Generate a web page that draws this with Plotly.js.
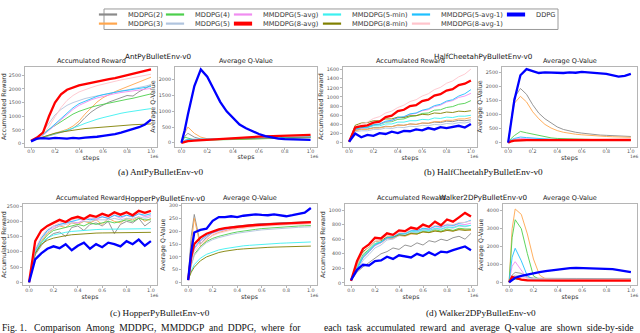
<!DOCTYPE html>
<html>
<head>
<meta charset="utf-8">
<script src="https://cdn.plot.ly/plotly-3.0.1.min.js"></script>
<style>
  html, body { margin: 0; padding: 0; background: #fff; }
  #graph { width: 640px; height: 333px; }
</style>
</head>
<body>
<div id="graph"></div>
<script>
// training steps (x1e6); Q panels get one extra early sample for the spikes
var steps = [0, 0.05, 0.1, 0.15, 0.2, 0.25, 0.3, 0.35, 0.4, 0.45, 0.5, 0.55, 0.6, 0.65, 0.7, 0.75, 0.8, 0.85, 0.9, 0.95, 1.0];
var stepsQ = [0, 0.025, 0.05, 0.1, 0.15, 0.2, 0.25, 0.3, 0.35, 0.4, 0.45, 0.5, 0.55, 0.6, 0.65, 0.7, 0.75, 0.8, 0.85, 0.9, 0.95, 1.0];

var seriesNames = ["MDDPG(2)", "MDDPG(3)", "MDDPG(4)", "MDDPG(5)", "MMDDPG(5-avg)", "MMDDPG(8-avg)",
  "MMDDPG(5-min)", "MMDDPG(8-min)", "MMDDPG(5-avg-1)", "MMDDPG(8-avg-1)", "DDPG"];

// one row per series, same order as seriesNames
var antReward = [
  [100, 160, 230, 300, 350, 420, 470, 560, 720, 950, 1150, 1300, 1420, 1520, 1600, 1680, 1760, 1740, 1900, 2010, 2150],
  [100, 170, 260, 330, 400, 460, 520, 640, 820, 1080, 1320, 1520, 1680, 1800, 1900, 1990, 2080, 2170, 2250, 2340, 2430],
  [100, 220, 380, 520, 660, 800, 950, 1080, 1180, 1260, 1330, 1390, 1440, 1480, 1530, 1570, 1620, 1660, 1720, 1770, 1820],
  [100, 230, 450, 760, 1050, 1250, 1400, 1500, 1580, 1650, 1700, 1750, 1790, 1840, 1880, 1920, 1960, 2000, 2050, 2100, 2160],
  [100, 180, 300, 470, 670, 870, 1070, 1250, 1400, 1510, 1600, 1670, 1730, 1780, 1830, 1870, 1900, 1930, 1960, 1990, 2020],
  [100, 220, 400, 1000, 1500, 1800, 1970, 2060, 2130, 2180, 2230, 2280, 2320, 2360, 2400, 2450, 2500, 2550, 2610, 2660, 2720],
  [100, 170, 240, 310, 370, 430, 490, 560, 650, 740, 820, 890, 950, 1010, 1060, 1110, 1150, 1190, 1220, 1250, 1280],
  [100, 170, 260, 330, 380, 420, 460, 490, 520, 550, 570, 590, 610, 630, 650, 660, 670, 690, 700, 710, 720],
  [100, 190, 320, 520, 720, 920, 1120, 1310, 1460, 1560, 1660, 1730, 1790, 1840, 1880, 1920, 1950, 1990, 2020, 2050, 2090],
  [100, 180, 330, 620, 980, 1320, 1580, 1760, 1890, 1980, 2050, 2120, 2180, 2230, 2280, 2330, 2370, 2410, 2450, 2500, 2540],
  [80, 180, 200, 180, 210, 190, 180, 210, 190, 220, 230, 250, 280, 310, 350, 400, 460, 520, 600, 700, 880]
];
var antQ = [
  [0, 200, 300, 180, 120, 100, 100, 105, 110, 115, 120, 125, 130, 135, 140, 145, 150, 155, 160, 165, 170, 175],
  [0, 300, 500, 300, 180, 130, 110, 105, 105, 110, 115, 120, 125, 130, 135, 140, 145, 150, 155, 160, 165, 170],
  [0, 180, 150, 90, 80, 85, 90, 95, 100, 105, 110, 115, 120, 125, 130, 135, 140, 145, 150, 155, 160, 165],
  [0, 60, 80, 90, 100, 110, 115, 120, 125, 130, 135, 140, 145, 150, 155, 160, 165, 170, 175, 180, 185, 190],
  [0, 70, 90, 100, 105, 110, 115, 120, 125, 130, 135, 140, 145, 150, 155, 160, 165, 170, 175, 180, 185, 190],
  [0, 40, 55, 70, 85, 100, 115, 130, 145, 160, 170, 180, 190, 197, 205, 212, 220, 227, 233, 240, 245, 250],
  [0, 60, 80, 90, 100, 110, 120, 125, 130, 135, 140, 145, 150, 155, 160, 165, 170, 175, 180, 185, 190, 195],
  [0, 50, 65, 80, 90, 100, 110, 115, 120, 125, 130, 135, 140, 145, 150, 155, 160, 165, 170, 175, 180, 185],
  [0, 80, 110, 110, 115, 120, 125, 130, 135, 140, 145, 150, 155, 160, 165, 170, 175, 180, 185, 190, 195, 200],
  [0, 50, 65, 80, 95, 110, 120, 130, 140, 150, 160, 170, 175, 180, 185, 190, 195, 200, 205, 210, 215, 220],
  [0, 400, 900, 1800, 2330, 2100, 1700, 1300, 1000, 780, 580, 460, 360, 280, 210, 160, 130, 115, 105, 100, 95, 90]
];
var cheetahReward = [
  [20, 270, 300, 300, 330, 330, 360, 350, 390, 380, 410, 400, 430, 420, 450, 440, 470, 460, 490, 480, 500],
  [20, 260, 290, 290, 320, 320, 350, 350, 380, 380, 410, 400, 430, 430, 460, 460, 490, 490, 520, 520, 550],
  [20, 280, 330, 340, 390, 400, 450, 460, 510, 520, 570, 590, 640, 650, 710, 720, 770, 790, 840, 860, 920],
  [20, 240, 260, 260, 290, 290, 320, 310, 340, 330, 360, 350, 380, 370, 400, 390, 420, 410, 440, 430, 460],
  [20, 290, 320, 330, 380, 400, 460, 480, 540, 560, 620, 640, 700, 720, 790, 820, 890, 920, 990, 1020, 1080],
  [20, 330, 360, 380, 440, 460, 560, 590, 690, 720, 800, 820, 910, 940, 1030, 1060, 1140, 1170, 1260, 1290, 1360],
  [20, 300, 330, 330, 370, 370, 410, 410, 450, 450, 480, 480, 510, 500, 540, 530, 560, 550, 580, 580, 600],
  [20, 380, 430, 440, 480, 480, 520, 520, 560, 550, 590, 590, 620, 610, 650, 640, 670, 660, 690, 680, 700],
  [20, 300, 330, 340, 390, 410, 470, 490, 550, 570, 630, 650, 710, 740, 810, 840, 910, 940, 1020, 1070, 1160],
  [20, 350, 410, 450, 530, 570, 650, 690, 770, 820, 900, 940, 1020, 1070, 1160, 1210, 1300, 1350, 1440, 1500, 1610],
  [20, 200, 120, 170, 150, 210, 190, 240, 210, 260, 250, 290, 270, 320, 290, 340, 320, 350, 370, 330, 410]
];
var cheetahQ = [
  [0, 900, 1600, 1930, 1720, 1350, 1050, 850, 690, 560, 470, 410, 370, 340, 310, 290, 270, 260, 250, 240, 230, 220],
  [0, 800, 1400, 1650, 1450, 1100, 850, 650, 520, 430, 370, 330, 300, 280, 260, 240, 230, 220, 210, 200, 195, 190],
  [0, 150, 250, 400, 350, 300, 250, 200, 170, 150, 140, 130, 125, 120, 115, 110, 110, 105, 105, 100, 100, 100],
  [0, 70, 100, 130, 120, 110, 110, 105, 100, 100, 100, 100, 100, 100, 100, 100, 100, 100, 100, 100, 100, 100],
  [0, 80, 120, 150, 140, 130, 120, 115, 110, 105, 100, 100, 100, 100, 100, 100, 100, 100, 100, 100, 100, 100],
  [0, 50, 70, 90, 90, 90, 90, 90, 90, 90, 90, 90, 90, 90, 90, 90, 90, 95, 95, 95, 95, 95],
  [0, 60, 90, 110, 100, 95, 90, 90, 90, 90, 90, 90, 90, 90, 90, 90, 90, 90, 90, 90, 90, 90],
  [0, 50, 70, 80, 80, 80, 80, 80, 80, 80, 80, 80, 80, 80, 80, 80, 80, 80, 80, 80, 80, 80],
  [0, 100, 150, 200, 180, 160, 140, 130, 120, 115, 110, 110, 110, 110, 110, 110, 110, 110, 110, 110, 110, 110],
  [0, 60, 90, 110, 105, 100, 100, 100, 100, 100, 100, 100, 100, 100, 100, 100, 100, 100, 100, 100, 100, 100],
  [0, 800, 1500, 2400, 2620, 2550, 2480, 2500, 2490, 2470, 2480, 2500, 2490, 2520, 2510, 2480, 2470, 2450, 2400, 2350, 2380, 2450]
];
var hopperReward = [
  [0, 900, 1200, 1450, 1600, 1650, 1500, 1800, 1850, 1700, 1900, 1950, 1850, 2000, 1600, 1900, 2000, 1950, 2100, 1850, 2000],
  [0, 1000, 1350, 1600, 1750, 1850, 1800, 1950, 1900, 2000, 1950, 2050, 1900, 2100, 2000, 1950, 2100, 2050, 2150, 2000, 2100],
  [0, 950, 1300, 1550, 1700, 1750, 1800, 1850, 1900, 1850, 1950, 1900, 1950, 2000, 1950, 2000, 2050, 2000, 2100, 2050, 2050],
  [0, 1000, 1400, 1650, 1750, 1850, 1900, 1950, 1950, 2000, 2000, 2050, 2050, 2050, 2100, 2050, 2100, 2100, 2150, 2100, 2150],
  [0, 1050, 1450, 1700, 1800, 1900, 1950, 2000, 1950, 2050, 2100, 2050, 2150, 2100, 2200, 2100, 2200, 2150, 2250, 2150, 2200],
  [0, 1350, 1700, 1850, 1950, 2050, 1980, 2100, 2150, 2080, 2200, 2150, 2250, 2180, 2300, 2220, 2300, 2200, 2350, 2280, 2350],
  [0, 1000, 1300, 1450, 1550, 1600, 1640, 1670, 1690, 1710, 1720, 1730, 1740, 1745, 1750, 1750, 1755, 1760, 1760, 1760, 1760],
  [0, 950, 1250, 1380, 1450, 1500, 1530, 1560, 1580, 1600, 1610, 1615, 1620, 1625, 1630, 1630, 1630, 1635, 1635, 1640, 1640],
  [0, 1050, 1450, 1700, 1850, 1900, 1950, 2000, 2050, 2100, 2050, 2100, 2150, 2100, 2200, 2150, 2200, 2150, 2250, 2200, 2250],
  [0, 1100, 1500, 1750, 1850, 1950, 2000, 2050, 2100, 2050, 2150, 2100, 2200, 2150, 2250, 2200, 2250, 2200, 2300, 2250, 2300],
  [0, 750, 950, 1100, 1180, 1120, 1250, 1050, 1200, 1300, 1100, 1250, 1150, 1300, 1250, 1180, 1350, 1250, 1400, 1200, 1350]
];
var hopperQ = [
  [10, 180, 265, 150, 175, 195, 205, 212, 217, 220, 223, 225, 227, 229, 230, 231, 232, 233, 234, 235, 236, 237],
  [10, 150, 250, 140, 165, 185, 195, 203, 208, 212, 215, 218, 220, 222, 223, 224, 225, 226, 227, 228, 229, 230],
  [10, 70, 110, 140, 160, 172, 180, 187, 192, 197, 201, 204, 207, 210, 212, 214, 216, 218, 219, 220, 221, 222],
  [10, 65, 105, 135, 155, 167, 175, 182, 187, 192, 196, 199, 202, 205, 207, 209, 211, 213, 214, 215, 216, 217],
  [10, 80, 130, 160, 180, 192, 200, 206, 211, 215, 218, 221, 223, 225, 226, 227, 228, 229, 230, 231, 232, 233],
  [10, 100, 150, 175, 190, 200, 207, 212, 215, 218, 220, 222, 224, 226, 227, 228, 229, 230, 231, 232, 233, 235],
  [10, 45, 70, 95, 110, 120, 127, 132, 136, 140, 143, 145, 147, 149, 151, 152, 153, 154, 155, 156, 157, 158],
  [10, 40, 60, 85, 100, 110, 117, 122, 126, 129, 131, 133, 135, 136, 137, 138, 139, 140, 141, 141, 142, 142],
  [10, 85, 135, 165, 183, 195, 203, 209, 214, 218, 221, 224, 226, 228, 229, 230, 231, 232, 233, 234, 235, 236],
  [10, 75, 120, 150, 170, 183, 192, 199, 204, 208, 212, 215, 217, 219, 221, 223, 224, 225, 226, 227, 228, 229],
  [10, 120, 195, 205, 210, 240, 255, 255, 258, 255, 260, 262, 265, 263, 262, 265, 262, 258, 262, 268, 272, 290]
];
var walkerReward = [
  [30, 150, 220, 280, 350, 400, 430, 480, 460, 520, 500, 550, 520, 580, 560, 600, 580, 620, 640, 600, 680],
  [30, 200, 360, 440, 530, 550, 610, 610, 650, 640, 670, 670, 700, 690, 720, 700, 730, 710, 740, 730, 720],
  [30, 220, 390, 460, 540, 560, 610, 620, 660, 650, 690, 680, 710, 700, 730, 710, 740, 720, 750, 740, 740],
  [30, 180, 310, 390, 480, 520, 590, 600, 650, 650, 690, 690, 720, 710, 740, 730, 760, 750, 780, 770, 790],
  [30, 200, 340, 420, 510, 550, 610, 620, 670, 670, 710, 710, 740, 730, 770, 760, 790, 780, 810, 800, 820],
  [30, 300, 470, 530, 620, 610, 680, 660, 720, 710, 760, 740, 800, 770, 840, 790, 870, 840, 900, 960, 910],
  [30, 210, 370, 450, 540, 560, 620, 630, 670, 670, 710, 700, 730, 720, 750, 740, 770, 760, 790, 780, 790],
  [30, 250, 430, 490, 570, 580, 630, 630, 660, 650, 680, 670, 700, 690, 710, 700, 720, 710, 730, 720, 730],
  [30, 200, 350, 430, 520, 560, 620, 630, 680, 680, 720, 720, 750, 740, 780, 770, 800, 790, 820, 830, 860],
  [30, 250, 410, 490, 570, 590, 650, 650, 690, 690, 730, 730, 770, 760, 790, 780, 810, 800, 830, 830, 850],
  [40, 180, 250, 240, 300, 310, 360, 330, 380, 360, 350, 400, 370, 420, 380, 430, 420, 450, 470, 500, 450]
];
var walkerQ = [
  [0, 400, 550, 500, 300, 230, 220, 210, 210, 210, 210, 210, 210, 210, 210, 210, 210, 210, 210, 210, 210, 200],
  [0, 3000, 4100, 3800, 2700, 1300, 400, 180, 150, 150, 150, 150, 150, 150, 150, 150, 150, 150, 150, 150, 150, 150],
  [0, 2500, 3500, 3000, 1600, 350, 150, 120, 110, 110, 110, 110, 110, 110, 110, 110, 110, 110, 110, 110, 110, 110],
  [0, 300, 400, 350, 250, 200, 180, 170, 170, 170, 170, 170, 170, 170, 170, 170, 170, 170, 170, 170, 170, 170],
  [0, 900, 1150, 700, 200, 130, 120, 110, 110, 110, 110, 110, 110, 110, 110, 110, 110, 110, 110, 110, 110, 110],
  [0, 300, 250, 150, 100, 90, 90, 90, 90, 90, 90, 90, 90, 90, 90, 90, 90, 90, 90, 90, 90, 90],
  [0, 150, 200, 150, 120, 110, 110, 110, 110, 110, 110, 110, 110, 110, 110, 110, 110, 110, 110, 110, 110, 110],
  [0, 150, 180, 130, 110, 100, 100, 100, 100, 100, 100, 100, 100, 100, 100, 100, 100, 100, 100, 100, 100, 100],
  [0, 1400, 1900, 1200, 350, 150, 120, 110, 110, 110, 110, 110, 110, 110, 110, 110, 110, 110, 110, 110, 110, 110],
  [0, 250, 300, 250, 200, 180, 170, 160, 160, 160, 160, 160, 160, 160, 160, 160, 160, 160, 160, 160, 160, 160],
  [0, 150, 250, 350, 430, 500, 560, 620, 670, 720, 760, 790, 800, 790, 780, 780, 770, 760, 730, 680, 620, 560]
];

var seriesColors = ["#8a8a8a", "#ffa64d", "#4ccf4c", "#b0c4de", "#f08cf0", "#ff0000",
  "#3cf0f0", "#808000", "#1ec0ff", "#ffc4cc", "#0000ff"];
var drawOrder = [0, 1, 2, 3, 4, 6, 7, 8, 9, 5, 10];

var W = 640, H = 333;
var FONT = "DejaVu Sans";
function px(x) { return x / W; }
function py(y) { return 1 - y / H; }

// frame boxes in pixels: [left, right, top, bottom]
var panels = [
  { data: antReward, x: steps, box: [25, 157, 60, 142], yr: [-110, 2820], dt: 500, ytitle: "Accumulated Reward" },
  { data: antQ, x: stepsQ, box: [175, 317, 60, 142], yr: [-120, 2420], dt: 500, ytitle: "Average Q-Value" },
  { data: cheetahReward, x: steps, box: [343, 477, 60, 142], yr: [-85, 1665], dt: 200, ytitle: "Accumulated Reward" },
  { data: cheetahQ, x: stepsQ, box: [502, 637, 60, 142], yr: [-140, 2710], dt: 500, ytitle: "Average Q-Value" },
  { data: hopperReward, x: steps, box: [23, 157, 201, 284], yr: [-96, 2565], dt: 500, ytitle: "Accumulated Reward" },
  { data: hopperQ, x: stepsQ, box: [182, 317, 201, 284], yr: [-10, 305], dt: 50, ytitle: "Average Q-Value" },
  { data: walkerReward, x: steps, box: [345, 477, 201, 284], yr: [-30, 1080], dt: 200, ytitle: "Accumulated Reward" },
  { data: walkerQ, x: stepsQ, box: [503, 637, 201, 284], yr: [-165, 4370], dt: 1000, ytitle: "Average Q-Value" }
];

var traces = [];
var layout = {
  width: W, height: H,
  margin: { l: 0, r: 0, t: 0, b: 0 },
  paper_bgcolor: "#ffffff",
  plot_bgcolor: "#ffffff",
  showlegend: true,
  font: { family: FONT, color: "#333" },
  annotations: [],
  shapes: []
};

panels.forEach(function (p, k) {
  var n = k === 0 ? "" : String(k + 1);
  var b = p.box;
  drawOrder.forEach(function (i) {
    var thick = i === 5 || i === 10;
    traces.push({
      type: "scatter", mode: "lines",
      x: p.x, y: p.data[i],
      xaxis: "x" + n, yaxis: "y" + n,
      name: seriesNames[i], showlegend: false, hoverinfo: "skip",
      line: { color: seriesColors[i], width: thick ? 2.3 : 0.9 }
    });
  });
  layout["xaxis" + n] = {
    domain: [px(b[0]), px(b[1])], anchor: "y" + n,
    range: [-0.05, 1.05], tick0: 0, dtick: 0.2, tickformat: ".1f",
    showgrid: false, zeroline: false, showline: true, mirror: true,
    linecolor: "#b5b5b5", linewidth: 1, ticks: "outside", ticklen: 2, tickcolor: "#b5b5b5",
    ticklabelstandoff: -2,
    tickfont: { family: FONT, size: 4.8, color: "#555" },
    title: { text: "steps", font: { family: FONT, size: 6.3, color: "#333" }, standoff: 1 }
  };
  layout["yaxis" + n] = {
    domain: [py(b[3]), py(b[2])], anchor: "x" + n,
    range: p.yr, tick0: 0, dtick: p.dt,
    showgrid: false, zeroline: false, showline: true, mirror: true,
    linecolor: "#b5b5b5", linewidth: 1, ticks: "outside", ticklen: 2, tickcolor: "#b5b5b5",
    tickfont: { family: FONT, size: 4.8, color: "#555" },
    title: { text: p.ytitle, font: { family: FONT, size: 6.3, color: "#333" }, standoff: 2 }
  };
  // subplot title and the 1e6 offset label
  layout.annotations.push({
    text: k % 2 === 0 ? "Accumulated Reward" : "Average Q-Value",
    xref: "paper", yref: "paper", x: px((b[0] + b[1]) / 2), y: py(b[2] - 6),
    xanchor: "center", yanchor: "middle", showarrow: false,
    font: { family: FONT, size: 6.5, color: "#222" }
  });
  layout.annotations.push({
    text: "1e6", xref: "paper", yref: "paper", x: px(b[1] + 3), y: py(b[3] + 10.5),
    xanchor: "right", yanchor: "middle", showarrow: false,
    font: { family: FONT, size: 4.4, color: "#555" }
  });
});

function note(text, x, y, size, family, anchor) {
  layout.annotations.push({
    text: text, xref: "paper", yref: "paper", x: px(x), y: py(y),
    xanchor: anchor || "center", yanchor: "middle", showarrow: false,
    font: { family: family, size: size, color: "#111" }
  });
}
// environment names over each pair
note("AntPyBulletEnv-v0", 158, 50, 7.2, FONT);
note("HalfCheetahPyBulletEnv-v0", 483, 50, 7.2, FONT);
note("HopperPyBulletEnv-v0", 165, 195, 7.2, FONT);
note("Walker2DPyBulletEnv-v0", 483, 194, 7.2, FONT);
// sub-captions
note("(a) AntPyBulletEnv-v0", 160, 168, 9.2, "Liberation Serif");
note("(b) HalfCheetahPyBulletEnv-v0", 483, 168, 9.2, "Liberation Serif");
note("(c) HopperPyBulletEnv-v0", 160, 312, 9.2, "Liberation Serif");
note("(d) Walker2DPyBulletEnv-v0", 481, 312, 9.2, "Liberation Serif");
note("Fig. 1.&nbsp;&nbsp;&nbsp;Comparison&nbsp;&nbsp;Among&nbsp;&nbsp;MDDPG,&nbsp;&nbsp;MMDDGP&nbsp;&nbsp;and&nbsp;&nbsp;DDPG,&nbsp;&nbsp;where&nbsp;&nbsp;for", 0, 327, 9.6, "Liberation Serif", "left");
note("each&nbsp;&nbsp;task&nbsp;&nbsp;accumulated&nbsp;&nbsp;reward&nbsp;&nbsp;and&nbsp;&nbsp;average&nbsp;&nbsp;Q-value&nbsp;&nbsp;are&nbsp;&nbsp;shown&nbsp;&nbsp;side-by-side", 322, 327, 9.6, "Liberation Serif", "left");

// legend: one small legend per entry so the two rows sit close together
var legendTextX = [125, 125, 192, 192, 260, 260, 349, 349, 438, 438, 533];
var legendRowY = [6.5, 16, 6.5, 16, 6.5, 16, 6.5, 16, 6.5, 16, 6.5];
seriesNames.forEach(function (name, i) {
  var id = i === 0 ? "legend" : "legend" + (i + 1);
  var thick = i === 5 || i === 10;
  traces.push({
    type: "scatter", mode: "markers", x: [null], y: [null],
    name: name, legend: id, showlegend: true, hoverinfo: "skip",
    marker: { symbol: "line-ew", size: 13, color: seriesColors[i],
      line: { color: seriesColors[i], width: thick ? 4 : 2.2 } }
  });
  layout[id] = {
    x: px(legendTextX[i] - 37), y: py(legendRowY[i]),
    xanchor: "left", yanchor: "middle",
    bgcolor: "rgba(0,0,0,0)", borderwidth: 0,
    font: { family: FONT, size: 6.7, color: "#333" },
    itemclick: false, itemdoubleclick: false
  };
});
layout.shapes.push({
  type: "rect", xref: "paper", yref: "paper",
  x0: px(104), x1: px(558), y0: py(22), y1: py(1),
  line: { color: "#9a9a9a", width: 1 }, fillcolor: "rgba(0,0,0,0)"
});

Plotly.newPlot("graph", traces, layout, { displayModeBar: false, staticPlot: true });
</script>
</body>
</html>
